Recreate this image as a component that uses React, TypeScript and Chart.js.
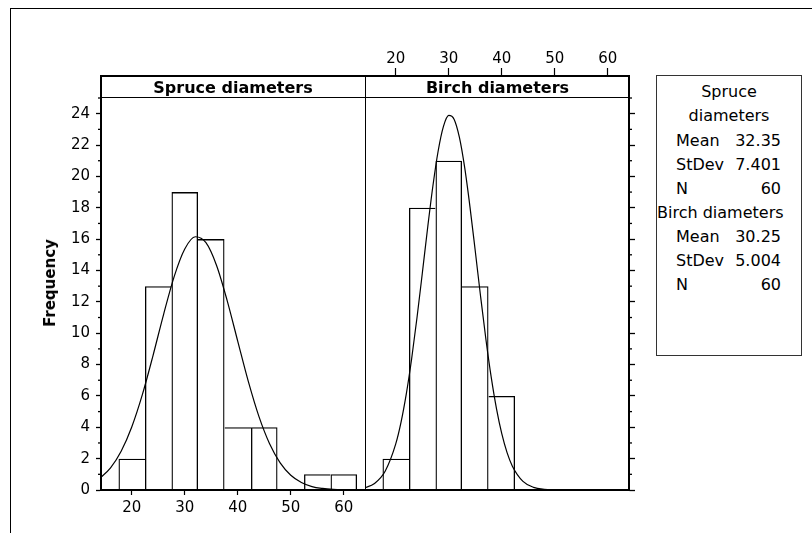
import React, { useEffect, useRef } from 'react';
import { Chart, registerables } from 'chart.js';

Chart.register(...registerables);

const FONT = '"DejaVu Sans", Verdana, sans-serif';

// ---- axes ----
const X_MIN = 14.2;
const X_MAX = 64.0;
const Y_MIN = 0;
const Y_MAX = 25;
const X_TICKS = [20, 30, 40, 50, 60];
const Y_TICKS = [0, 2, 4, 6, 8, 10, 12, 14, 16, 18, 20, 22, 24];
const Y_MINOR_TICKS = [1, 3, 5, 7, 9, 11, 13, 15, 17, 19, 21, 23, 25];

// ---- histogram data ----
const SPRUCE_BINS = [20, 25, 30, 35, 40, 45, 50, 55, 60];
const SPRUCE_COUNTS = [2, 13, 19, 16, 4, 4, 0, 1, 1];
const BIRCH_BINS = [20, 25, 30, 35, 40];
const BIRCH_COUNTS = [2, 18, 21, 13, 6];

// ---- fitted normal curves ----
const SPRUCE_FIT_X = [14, 16, 18, 20, 22, 24, 26, 28, 30, 32, 34, 36, 38, 40, 42, 44, 46, 48, 50, 52, 54, 56, 58, 60, 62, 64];
const SPRUCE_FIT_Y = [0.75, 1.41, 2.47, 4.02, 6.08, 8.56, 11.19, 13.61, 15.37, 16.15, 15.77, 14.32, 12.08, 9.48, 6.91, 4.68, 2.95, 1.73, 0.94, 0.48, 0.22, 0.1, 0.04, 0.015, 0.005, 0.001];
const BIRCH_FIT_X = [14, 16, 18, 20, 21, 22, 23, 24, 25, 26, 27, 28, 29, 30, 31, 32, 33, 34, 35, 36, 37, 38, 39, 40, 41, 42, 44, 46, 48, 50, 52, 54, 56, 58, 60, 62];
const BIRCH_FIT_Y = [0.12, 0.42, 1.2, 2.94, 4.33, 6.15, 8.37, 10.97, 13.79, 16.68, 19.37, 21.62, 23.19, 23.89, 23.65, 22.5, 20.57, 18.06, 15.24, 12.36, 9.63, 7.21, 5.19, 3.59, 2.38, 1.52, 0.55, 0.17, 0.044, 0.01, 0, 0, 0, 0, 0, 0];

// ---- texts ----
const PANEL_TITLES = ['Spruce diameters', 'Birch diameters'];
const Y_TITLE = 'Frequency';
const STAT_LABELS = ['Mean', 'StDev', 'N'];
const SPRUCE_STATS = ['32.35', '7.401', '60'];
const BIRCH_STATS = ['30.25', '5.004', '60'];

const BAR_LINE = 1.3;

function barBorder(counts: number[]) {
  return (ctx: any) => {
    const i = ctx.dataIndex;
    if (i === undefined) return BAR_LINE;
    const v = counts[i];
    const prev = i > 0 ? counts[i - 1] : 0;
    const next = i < counts.length - 1 ? counts[i + 1] : 0;
    return { top: BAR_LINE, bottom: 0, left: prev > v ? 0 : BAR_LINE, right: next >= v ? 0 : BAR_LINE };
  };
}

const minorTicksPlugin = {
  id: 'minorTicks',
  afterDraw(chart: any, _args: any, opts: any) {
    const y = chart.scales.y;
    const { ctx, chartArea } = chart;
    ctx.save();
    ctx.strokeStyle = '#000';
    ctx.lineWidth = 1.3;
    for (const v of Y_MINOR_TICKS) {
      const py = y.getPixelForValue(v);
      ctx.beginPath();
      if (opts.side === 'left') {
        ctx.moveTo(chartArea.left - 3, py);
        ctx.lineTo(chartArea.left, py);
      } else {
        ctx.moveTo(chartArea.right, py);
        ctx.lineTo(chartArea.right + 3, py);
      }
      ctx.stroke();
    }
    ctx.restore();
  },
};

function makeConfig(side: 'left' | 'right', bins: number[], counts: number[], fitX: number[], fitY: number[]): any {
  const isLeft = side === 'left';
  const tickFont = { family: FONT, size: 15 };
  return {
    type: 'bar',
    data: {
      datasets: [
        {
          type: 'line',
          data: fitX.map((x, i) => ({ x, y: fitY[i] })),
          borderColor: '#000',
          borderWidth: 1.2,
          pointRadius: 0,
          cubicInterpolationMode: 'monotone',
          fill: false,
        },
        {
          type: 'bar',
          data: bins.map((x, i) => ({ x, y: counts[i] })),
          backgroundColor: 'rgba(255,255,255,0)',
          borderColor: '#000',
          borderWidth: barBorder(counts),
          barPercentage: 1,
          categoryPercentage: 1,
          inflateAmount: 0,
        },
      ],
    },
    options: {
      animation: false,
      responsive: false,
      maintainAspectRatio: false,
      devicePixelRatio: 1,
      events: [],
      layout: { padding: isLeft ? { top: 28, right: 0, bottom: 0, left: 0 } : { top: 0, right: 0, bottom: 10, left: 0 } },
      plugins: {
        legend: { display: false },
        tooltip: { enabled: false },
        title: { display: false },
        minorTicks: { side },
      },
      scales: {
        x: {
          type: 'linear',
          position: isLeft ? 'bottom' : 'top',
          min: X_MIN,
          max: X_MAX,
          offset: false,
          afterBuildTicks: (s: any) => {
            s.ticks = X_TICKS.map((value) => ({ value }));
          },
          afterFit: (s: any) => {
            s.height = isLeft ? 40 : 58;
          },
          grid: {
            display: true,
            offset: false,
            drawOnChartArea: false,
            drawTicks: true,
            tickLength: isLeft ? 5 : 30,
            tickColor: '#000',
            tickWidth: 1.2,
          },
          border: { display: isLeft, color: '#000', width: 1.5 },
          ticks: { color: '#000', font: tickFont, padding: isLeft ? 4 : 0, maxRotation: 0, minRotation: 0, autoSkip: false },
        },
        y: {
          type: 'linear',
          position: isLeft ? 'left' : 'right',
          min: Y_MIN,
          max: Y_MAX,
          afterBuildTicks: (s: any) => {
            s.ticks = Y_TICKS.map((value) => ({ value }));
          },
          afterFit: (s: any) => {
            s.width = isLeft ? 81 : 16;
          },
          grid: {
            display: true,
            drawOnChartArea: false,
            drawTicks: true,
            tickLength: isLeft ? 5 : 6,
            tickColor: '#000',
            tickWidth: 1.3,
          },
          border: { display: true, color: '#000', width: 1.5 },
          ticks: { display: isLeft, color: '#000', font: tickFont, padding: 6, autoSkip: false },
        },
      },
    },
    plugins: [minorTicksPlugin],
  };
}

export default function App() {
  const leftRef = useRef<HTMLCanvasElement | null>(null);
  const rightRef = useRef<HTMLCanvasElement | null>(null);

  useEffect(() => {
    const left = new Chart(leftRef.current as HTMLCanvasElement, makeConfig('left', SPRUCE_BINS, SPRUCE_COUNTS, SPRUCE_FIT_X, SPRUCE_FIT_Y));
    const right = new Chart(rightRef.current as HTMLCanvasElement, makeConfig('right', BIRCH_BINS, BIRCH_COUNTS, BIRCH_FIT_X, BIRCH_FIT_Y));
    return () => {
      left.destroy();
      right.destroy();
    };
  }, []);

  const abs = (s: React.CSSProperties): React.CSSProperties => ({ position: 'absolute', ...s });

  const statRows: { kind: 'center' | 'left' | 'pair'; text?: string; label?: string; value?: string }[] = [
    { kind: 'center', text: 'Spruce' },
    { kind: 'center', text: 'diameters' },
    ...STAT_LABELS.map((l, i) => ({ kind: 'pair' as const, label: l, value: SPRUCE_STATS[i] })),
    { kind: 'left', text: PANEL_TITLES[1] },
    ...STAT_LABELS.map((l, i) => ({ kind: 'pair' as const, label: l, value: BIRCH_STATS[i] })),
  ];

  return (
    <div style={{ position: 'fixed', left: 0, top: 0, width: 812, height: 533, overflow: 'hidden', background: '#fff', fontFamily: FONT, color: '#000' }}>
      <div style={abs({ left: 10, top: 8, width: 900, height: 700, border: '1px solid #000' })} />
      <canvas ref={leftRef} width={345} height={460} style={abs({ left: 20, top: 70 })} />
      <canvas ref={rightRef} width={280} height={460} style={abs({ left: 365, top: 40 })} />
      {/* strip */}
      <div style={abs({ left: 102, top: 77, width: 526, height: 20, background: '#fff' })} />
      <div style={abs({ left: 100, top: 97, width: 530, height: 1, background: '#000' })} />
      <div style={abs({ left: 100, top: 75, width: 530, height: 416, border: '2px solid #000', boxSizing: 'border-box' })} />
      <div style={abs({ left: 365, top: 75, width: 1, height: 416, background: '#000' })} />
      <div style={abs({ left: 101, top: 77, width: 264, height: 21, lineHeight: '21px', textAlign: 'center', fontWeight: 'bold', fontSize: 16, whiteSpace: 'nowrap' })}>
        {PANEL_TITLES[0]}
      </div>
      <div style={abs({ left: 366, top: 77, width: 263, height: 21, lineHeight: '21px', textAlign: 'center', fontWeight: 'bold', fontSize: 16, whiteSpace: 'nowrap' })}>
        {PANEL_TITLES[1]}
      </div>
      {/* y title */}
      <div style={abs({ left: 50, top: 283, transform: 'translate(-50%, -50%) rotate(-90deg)', fontWeight: 'bold', fontSize: 15, whiteSpace: 'nowrap' })}>
        {Y_TITLE}
      </div>
      {/* stats box */}
      <div style={abs({ left: 656, top: 75, width: 146, height: 281, border: '1px solid #333', boxSizing: 'border-box' })}>
        <div style={abs({ left: 0, top: 4.4, width: 144, fontSize: 16, lineHeight: '24.1px' })}>
          {statRows.map((r, i) => (
            <div key={i} style={{ position: 'relative', height: '24.1px', whiteSpace: 'nowrap' }}>
              {r.kind === 'center' && <div style={{ textAlign: 'center' }}>{r.text}</div>}
              {r.kind === 'left' && <div style={{ textAlign: 'left' }}>{r.text}</div>}
              {r.kind === 'pair' && (
                <>
                  <span style={abs({ left: 19, top: 0 })}>{r.label}</span>
                  <span style={abs({ right: 20, top: 0 })}>{r.value}</span>
                </>
              )}
            </div>
          ))}
        </div>
      </div>
    </div>
  );
}
